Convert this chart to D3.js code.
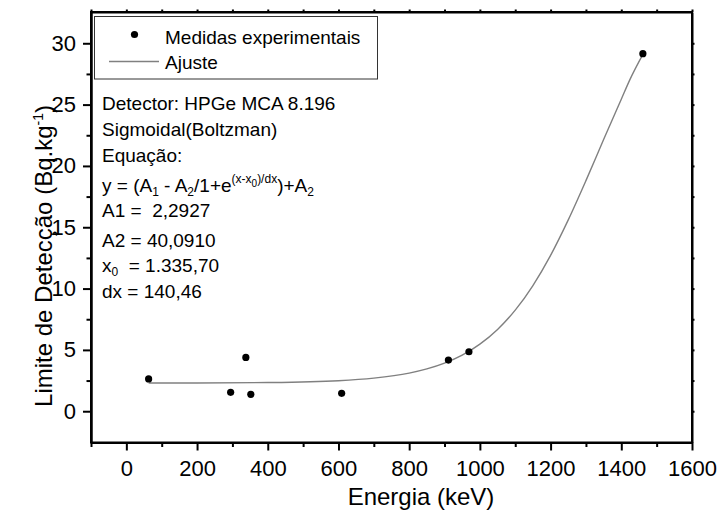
<!DOCTYPE html>
<html>
<head>
<meta charset="utf-8">
<script src="https://cdn.jsdelivr.net/npm/d3@7"></script>
<style>
  body { margin: 0; background: #fff; }
  svg { display: block; font-family: "Liberation Sans", Arial, sans-serif; }
  .axis path, .axis line { stroke: #000; stroke-width: 2; }
  .axis text { font-size: 22px; fill: #000; }
  .info text { white-space: pre; }
</style>
</head>
<body>
<div id="chart"></div>
<script>
// measured points
const energy = [63, 295, 338, 352, 609, 911, 969, 1461];
const limit = [2.63, 1.54, 4.39, 1.38, 1.46, 4.17, 4.85, 29.15];

// fitted curve
const fitEnergy = [63, 200, 400, 600, 700, 800, 850, 900, 950, 1000, 1050, 1100, 1150, 1200, 1250, 1300, 1350, 1400, 1425, 1461];
const fitLimit = [2.30, 2.30, 2.34, 2.49, 2.70, 3.11, 3.45, 3.92, 4.57, 5.47, 6.67, 8.24, 10.25, 12.71, 15.60, 18.80, 22.15, 25.44, 27.08, 29.10];

const xTicks = [0, 200, 400, 600, 800, 1000, 1200, 1400, 1600];
const xMinor = [-100, 100, 300, 500, 700, 900, 1100, 1300, 1500];
const yTicks = [0, 5, 10, 15, 20, 25, 30];
const yMinor = [2.5, 7.5, 12.5, 17.5, 22.5, 27.5];

const legendLabels = ["Medidas experimentais", "Ajuste"];
const infoLines = [
    "Detector: HPGe MCA 8.196",
    "Sigmoidal(Boltzman)",
    "Equação:",
    null, // equation, built with tspans below
    "A1 =  2,2927",
    "A2 = 40,0910",
    null, // x0 line
    "dx = 140,46"
];

const W = 719, H = 519;
const plot = {left: 91, right: 692, top: 12, bottom: 442.5};

const svg = d3.select("#chart").append("svg")
    .attr("width", W)
    .attr("height", H);

const x = d3.scaleLinear().domain([-100, 1600]).range([plot.left, plot.right]);
const y = d3.scaleLinear().domain([-2.55, 32.55]).range([plot.bottom, plot.top]);

// Axes (major + minor, mirrored on top/right)
svg.append("g").attr("class", "axis")
    .attr("transform", `translate(0,${plot.bottom})`)
    .call(d3.axisBottom(x).tickValues(xTicks).tickSize(8).tickPadding(10).tickSizeOuter(0).tickFormat(d3.format("d")));
svg.append("g").attr("class", "axis")
    .attr("transform", `translate(0,${plot.bottom})`)
    .call(d3.axisBottom(x).tickValues(xMinor).tickSize(4.5).tickSizeOuter(0).tickFormat(""));
svg.append("g").attr("class", "axis")
    .attr("transform", `translate(${plot.left},0)`)
    .call(d3.axisLeft(y).tickValues(yTicks).tickSize(8).tickPadding(7).tickSizeOuter(0));
svg.append("g").attr("class", "axis")
    .attr("transform", `translate(${plot.left},0)`)
    .call(d3.axisLeft(y).tickValues(yMinor).tickSize(4.5).tickSizeOuter(0).tickFormat(""));
svg.append("g").attr("class", "axis")
    .attr("transform", `translate(0,${plot.top})`)
    .call(d3.axisTop(x).tickValues(xTicks.concat(xMinor)).tickSize(2.5).tickSizeOuter(0).tickFormat(""));
svg.append("g").attr("class", "axis")
    .attr("transform", `translate(${plot.right},0)`)
    .call(d3.axisRight(y).tickValues(yTicks.concat(yMinor)).tickSize(2.5).tickSizeOuter(0).tickFormat(""));

// frame
svg.append("rect")
    .attr("x", plot.left).attr("y", plot.top)
    .attr("width", plot.right - plot.left).attr("height", plot.bottom - plot.top)
    .attr("fill", "none").attr("stroke", "#000").attr("stroke-width", 2);

// fit line
const line = d3.line()
    .x((d, i) => x(fitEnergy[i]))
    .y(d => y(d))
    .curve(d3.curveMonotoneX);

svg.append("path")
    .datum(fitLimit)
    .attr("d", line)
    .attr("fill", "none")
    .attr("stroke", "#808080")
    .attr("stroke-width", 1.4);

// points
svg.selectAll("circle.pt")
    .data(energy)
    .enter().append("circle")
    .attr("class", "pt")
    .attr("cx", d => x(d))
    .attr("cy", (d, i) => y(limit[i]))
    .attr("r", 3.6)
    .attr("fill", "#000");

// legend
const lg = svg.append("g");
lg.append("rect")
    .attr("x", 94.5).attr("y", 16.5)
    .attr("width", 283).attr("height", 62.5)
    .attr("fill", "#fff").attr("stroke", "#333").attr("stroke-width", 1);
lg.append("circle").attr("cx", 134.5).attr("cy", 34.5).attr("r", 3.6).attr("fill", "#000");
lg.append("line")
    .attr("x1", 109).attr("x2", 159).attr("y1", 61.5).attr("y2", 61.5)
    .attr("stroke", "#808080").attr("stroke-width", 1.4);
lg.selectAll("text")
    .data(legendLabels)
    .enter().append("text")
    .attr("x", 165)
    .attr("y", (d, i) => 43.5 + i * 25.5)
    .attr("font-size", 19)
    .text(d => d);

// info block
function richText(g, xPos, yPos, parts, size) {
    const t = g.append("text").attr("x", xPos).attr("y", yPos).attr("font-size", size);
    let cur = 0;
    parts.forEach(p => {
        const shift = p.shift || 0;
        t.append("tspan")
            .attr("dy", shift - cur)
            .attr("font-size", p.size || size)
            .text(p.t);
        cur = shift;
    });
    return t;
}

const info = svg.append("g").attr("class", "info");
const lineY = [109.5, 135.5, 161.5, 192, 217, 246.5, 271.5, 297.5];
const fs = 19;
infoLines.forEach((s, i) => {
    if (s) info.append("text").attr("x", 102).attr("y", lineY[i]).attr("font-size", fs).text(s);
});
richText(info, 102, lineY[3], [
    {t: "y = (A"},
    {t: "1", shift: 4, size: 12},
    {t: " - A"},
    {t: "2", shift: 4, size: 12},
    {t: "/1+e"},
    {t: "(x-x", shift: -9, size: 12},
    {t: "0", shift: -5, size: 10},
    {t: ")/dx", shift: -9, size: 12},
    {t: ")+A"},
    {t: "2", shift: 4, size: 12}
], fs);
richText(info, 102, lineY[6], [
    {t: "x"},
    {t: "0", shift: 4, size: 12},
    {t: "  = 1.335,70"}
], fs);

// axis titles
svg.append("text")
    .attr("x", 421).attr("y", 505)
    .attr("text-anchor", "middle")
    .attr("font-size", 24)
    .text("Energia (keV)");

const yt = svg.append("text")
    .attr("transform", "translate(52,256) rotate(-90)")
    .attr("text-anchor", "middle")
    .attr("font-size", 24);
yt.append("tspan").text("Limite de Detecção (Bq.kg");
yt.append("tspan").attr("dy", -9).attr("font-size", 14).text("-1");
yt.append("tspan").attr("dy", 9).text(")");
</script>
</body>
</html>
